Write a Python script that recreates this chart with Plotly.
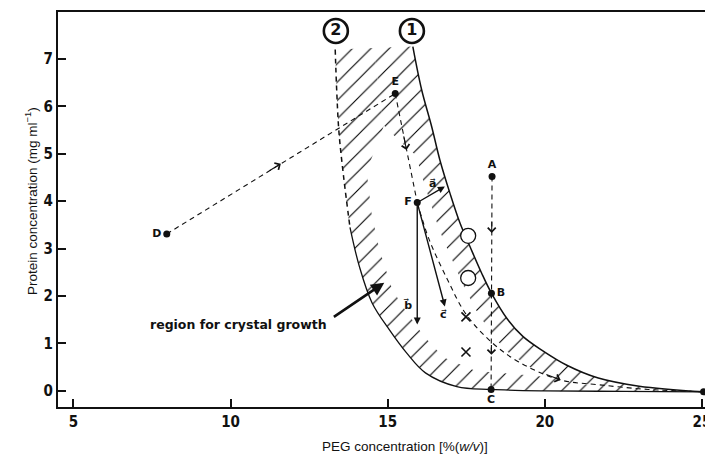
import numpy as np
import plotly.graph_objects as go

# ---------------- data ----------------
x_ticks = [5, 10, 15, 20, 25]
y_ticks = [0, 1, 2, 3, 4, 5, 6, 7]

# boundary curve 1 (solid)
curve1_x = [15.80, 16.08, 16.40, 16.66, 16.98, 17.30, 17.62, 17.99, 18.30, 18.8, 19.3, 19.9, 20.7, 21.7, 23.0, 25.05]
curve1_y = [7.26, 6.35, 5.57, 4.87, 4.17, 3.54, 3.04, 2.48, 2.06, 1.52, 1.15, 0.86, 0.54, 0.27, 0.10, -0.02]

# boundary curve 2: dashed upper part, solid lower part
curve2_dash_x = [13.33, 13.38, 13.45, 13.6, 13.8]
curve2_dash_y = [7.2, 6.3, 5.45, 4.5, 3.45]
curve2_solid_x = [13.8, 14.1, 14.5, 15.05, 15.6, 16.2, 17.2, 18.3, 20.0, 22.5, 25.05]
curve2_solid_y = [3.45, 2.62, 1.86, 1.29, 0.8, 0.38, 0.09, 0.03, 0.0, -0.01, -0.02]

# labelled points
pt_labels = ["A", "B", "C", "D", "E", "F", "G"]
pt_x = [18.32, 18.30, 18.29, 7.97, 15.24, 15.94, 25.05]
pt_y = [4.52, 2.06, 0.03, 3.31, 6.27, 3.97, -0.02]
pt_textpos = ["top center", "middle right", "bottom center", "middle left",
              "top center", "middle left", "middle right"]

# dashed pathways
path_DE_x = [7.97, 15.24]
path_DE_y = [3.31, 6.27]
path_EF_x = [15.24, 15.94]
path_EF_y = [6.27, 3.97]
path_AC_x = [18.32, 18.29]
path_AC_y = [4.52, 0.03]
path_FG_x = [15.94, 16.32, 16.9, 17.49, 18.3, 19.17, 20.5, 21.7, 23.3, 25.05]
path_FG_y = [3.97, 3.19, 2.35, 1.62, 1.03, 0.61, 0.23, 0.13, 0.03, -0.02]

# arrowheads on the dashed pathways (tail -> head)
path_arrow_tail_x = [11.2, 15.50, 18.31, 18.30, 20.0]
path_arrow_tail_y = [4.63, 5.40, 3.60, 1.00, 0.36]
path_arrow_head_x = [11.6, 15.60, 18.31, 18.30, 20.5]
path_arrow_head_y = [4.79, 5.08, 3.33, 0.76, 0.23]

# vectors from F
vec_names = ["a\u20d7", "b\u20d7", "c\u20d7"]
vec_head_x = [16.82, 15.94, 16.82]
vec_head_y = [4.31, 1.40, 1.78]
vec_label_x = [16.42, 15.63, 16.78]
vec_label_y = [4.38, 1.82, 1.62]

# experimental symbols
circ_x = [17.56, 17.56]
circ_y = [3.27, 2.38]
cross_x = [17.49, 17.49]
cross_y = [1.56, 0.82]

# circled curve numbers
num_labels = ["2", "1"]
num_x = [13.35, 15.77]
num_y = [7.59, 7.59]

region_text = "region for crystal growth"
region_text_x, region_text_y = 10.25, 1.41
region_arrow_tail = (13.24, 1.54)
region_arrow_head = (14.89, 2.28)

# ---------------- layout geometry ----------------
# page body has an 8px margin; figure is sized/placed to compensate
OFF = 8
W, H = 713 - OFF, 456 - OFF
ML, MR, MT, MB = 58 - OFF, 0, 12 - OFF, 456 - 407
X0, X1 = 4.51, 25.35
Y0, Y1 = -0.34, 7.99
PW, PH = W - ML - MR, H - MT - MB
sx = PW / (X1 - X0)
sy = PH / (Y1 - Y0)

BLACK = "#111111"
DASH = "5px,4px"

def resample(xs, ys, n):
    xs = np.asarray(xs, float); ys = np.asarray(ys, float)
    d = np.hypot(np.diff(xs) * sx, np.diff(ys) * sy)
    s = np.concatenate([[0], np.cumsum(d)]); s /= s[-1]
    t = np.linspace(0, 1, n)
    return np.interp(t, s, xs), np.interp(t, s, ys)

def page_to_paper(px, py):
    return (px - OFF - ML) / PW, (H - MB - (py - OFF)) / PH

c2_x = curve2_dash_x + curve2_solid_x[1:]
c2_y = curve2_dash_y + curve2_solid_y[1:]

fig = go.Figure()

# hatched band between the two curves
band_x = curve1_x + c2_x[::-1][1:]
band_y = curve1_y + c2_y[::-1][1:]
fig.add_trace(go.Scatter(
    x=band_x, y=band_y, mode="lines", line=dict(width=0, shape="spline"),
    fill="toself", fillcolor="white",
    fillpattern=dict(shape="/", size=13, solidity=0.085, fgcolor="black",
                     fgopacity=1, bgcolor="white"),
    hoverinfo="skip"))

# white interior (hatches only along the boundaries)
n = 160
ax_, ay_ = resample(curve1_x, curve1_y, n)
bx_, by_ = resample(c2_x, c2_y, n)
wpx = np.hypot((bx_ - ax_) * sx, (by_ - ay_) * sy) + 1e-9
f1 = np.clip(22 / wpx, 0, 0.5)
f2 = np.clip(24 / wpx, 0, 0.5)
midy = (ay_ + by_) / 2
full = np.clip((midy - 4.8) / (5.6 - 4.8), 0, 1)
f1 = f1 + (0.5 - f1) * full
f2 = f2 + (0.5 - f2) * full
i1x = ax_ + f1 * (bx_ - ax_); i1y = ay_ + f1 * (by_ - ay_)
i2x = bx_ + f2 * (ax_ - bx_); i2y = by_ + f2 * (ay_ - by_)
fig.add_trace(go.Scatter(
    x=np.concatenate([i1x, i2x[::-1]]), y=np.concatenate([i1y, i2y[::-1]]),
    mode="lines", line=dict(width=0), fill="toself", fillcolor="white", hoverinfo="skip"))

# boundary curves
fig.add_trace(go.Scatter(x=curve1_x, y=curve1_y, mode="lines",
                         line=dict(color=BLACK, width=1.5, shape="spline")))
fig.add_trace(go.Scatter(x=curve2_dash_x, y=curve2_dash_y, mode="lines",
                         line=dict(color=BLACK, width=1.5, dash=DASH, shape="spline")))
fig.add_trace(go.Scatter(x=curve2_solid_x, y=curve2_solid_y, mode="lines",
                         line=dict(color=BLACK, width=1.3, shape="spline")))

# dashed pathways
for px_, py_ in [(path_DE_x, path_DE_y), (path_EF_x, path_EF_y), (path_AC_x, path_AC_y)]:
    fig.add_trace(go.Scatter(x=px_, y=py_, mode="lines",
                             line=dict(color=BLACK, width=1.1, dash=DASH)))
fig.add_trace(go.Scatter(x=path_FG_x, y=path_FG_y, mode="lines",
                         line=dict(color=BLACK, width=1.1, dash=DASH, shape="spline")))

# symbols
fig.add_trace(go.Scatter(x=circ_x, y=circ_y, mode="markers",
                         marker=dict(symbol="circle", size=15, color="white",
                                     line=dict(color=BLACK, width=1.3))))
fig.add_trace(go.Scatter(x=cross_x, y=cross_y, mode="markers",
                         marker=dict(symbol="x-thin", size=9, line=dict(color=BLACK, width=1.6))))

# labelled points
fig.add_trace(go.Scatter(x=pt_x, y=pt_y, mode="markers+text", text=pt_labels,
                         textposition=pt_textpos,
                         textfont=dict(family="DejaVu Sans", size=11, color=BLACK, weight="bold"),
                         marker=dict(size=7, color=BLACK), cliponaxis=False))

# circled numbers
fig.add_trace(go.Scatter(x=num_x, y=num_y, mode="markers+text", text=num_labels,
                         textposition="middle center",
                         textfont=dict(family="DejaVu Sans", size=16, color=BLACK, weight="bold"),
                         marker=dict(symbol="circle-open", size=24, color=BLACK,
                                     line=dict(color=BLACK, width=2.6)), cliponaxis=False))

# arrowheads on dashed paths
for tx, ty, hx, hy in zip(path_arrow_tail_x, path_arrow_tail_y, path_arrow_head_x, path_arrow_head_y):
    fig.add_annotation(x=hx, y=hy, ax=tx, ay=ty, xref="x", yref="y", axref="x", ayref="y",
                       text="", showarrow=True, arrowhead=4, arrowsize=1.4, arrowwidth=1.1,
                       arrowcolor=BLACK, standoff=0)

# vectors from F
Fx, Fy = pt_x[5], pt_y[5]
for name, hx, hy, lx, ly in zip(vec_names, vec_head_x, vec_head_y, vec_label_x, vec_label_y):
    fig.add_annotation(x=hx, y=hy, ax=Fx, ay=Fy, xref="x", yref="y", axref="x", ayref="y",
                       text="", showarrow=True, arrowhead=2, arrowsize=1.0, arrowwidth=1.4,
                       arrowcolor=BLACK, standoff=0)
    fig.add_annotation(x=lx, y=ly, text=name, showarrow=False,
                       font=dict(family="DejaVu Sans", size=11, color=BLACK, weight="bold"))

# region label + arrow
fig.add_annotation(x=region_arrow_head[0], y=region_arrow_head[1],
                   ax=region_arrow_tail[0], ay=region_arrow_tail[1],
                   xref="x", yref="y", axref="x", ayref="y", text="", showarrow=True,
                   arrowhead=2, arrowsize=1.0, arrowwidth=2.6, arrowcolor=BLACK, standoff=0)
fig.add_annotation(x=region_text_x, y=region_text_y, text=region_text, showarrow=False,
                   font=dict(family="DejaVu Sans", size=12.5, color=BLACK, weight="bold"))

# axis titles
tx_, ty_ = page_to_paper(405, 446)
fig.add_annotation(xref="paper", yref="paper", x=tx_, y=ty_, yanchor="middle",
                   text="PEG concentration [%(<i>w/v</i>)]", showarrow=False,
                   font=dict(family="Liberation Sans, Arial, sans-serif", size=13.5, color=BLACK))
tx_, ty_ = page_to_paper(20, 201)
fig.add_annotation(xref="paper", yref="paper", x=tx_, y=ty_, textangle=-90,
                   text="Protein concentration (mg ml<sup>\u22121</sup>)", showarrow=False,
                   font=dict(family="Liberation Sans, Arial, sans-serif", size=13.5, color=BLACK))

tickfont = dict(family="Liberation Sans Narrow, DejaVu Sans Condensed, Roboto Condensed, Roboto, sans-serif",
                size=15, color=BLACK, weight="bold")
fig.update_layout(
    width=W, height=H, margin=dict(l=ML, r=MR, t=MT, b=MB),
    paper_bgcolor="white", plot_bgcolor="white", showlegend=False,
    xaxis=dict(range=[X0, X1], tickvals=x_ticks, ticks="inside", ticklen=8, tickwidth=1.5,
               tickcolor=BLACK, showline=True, linecolor=BLACK, linewidth=2, mirror=True,
               showgrid=False, zeroline=False, tickfont=tickfont, automargin=False),
    yaxis=dict(range=[Y0, Y1], tickvals=y_ticks, ticks="inside", ticklen=8, tickwidth=1.5,
               tickcolor=BLACK, showline=True, linecolor=BLACK, linewidth=2,
               showgrid=False, zeroline=False, tickfont=tickfont, automargin=False),
)

fig.write_html("out.html")
